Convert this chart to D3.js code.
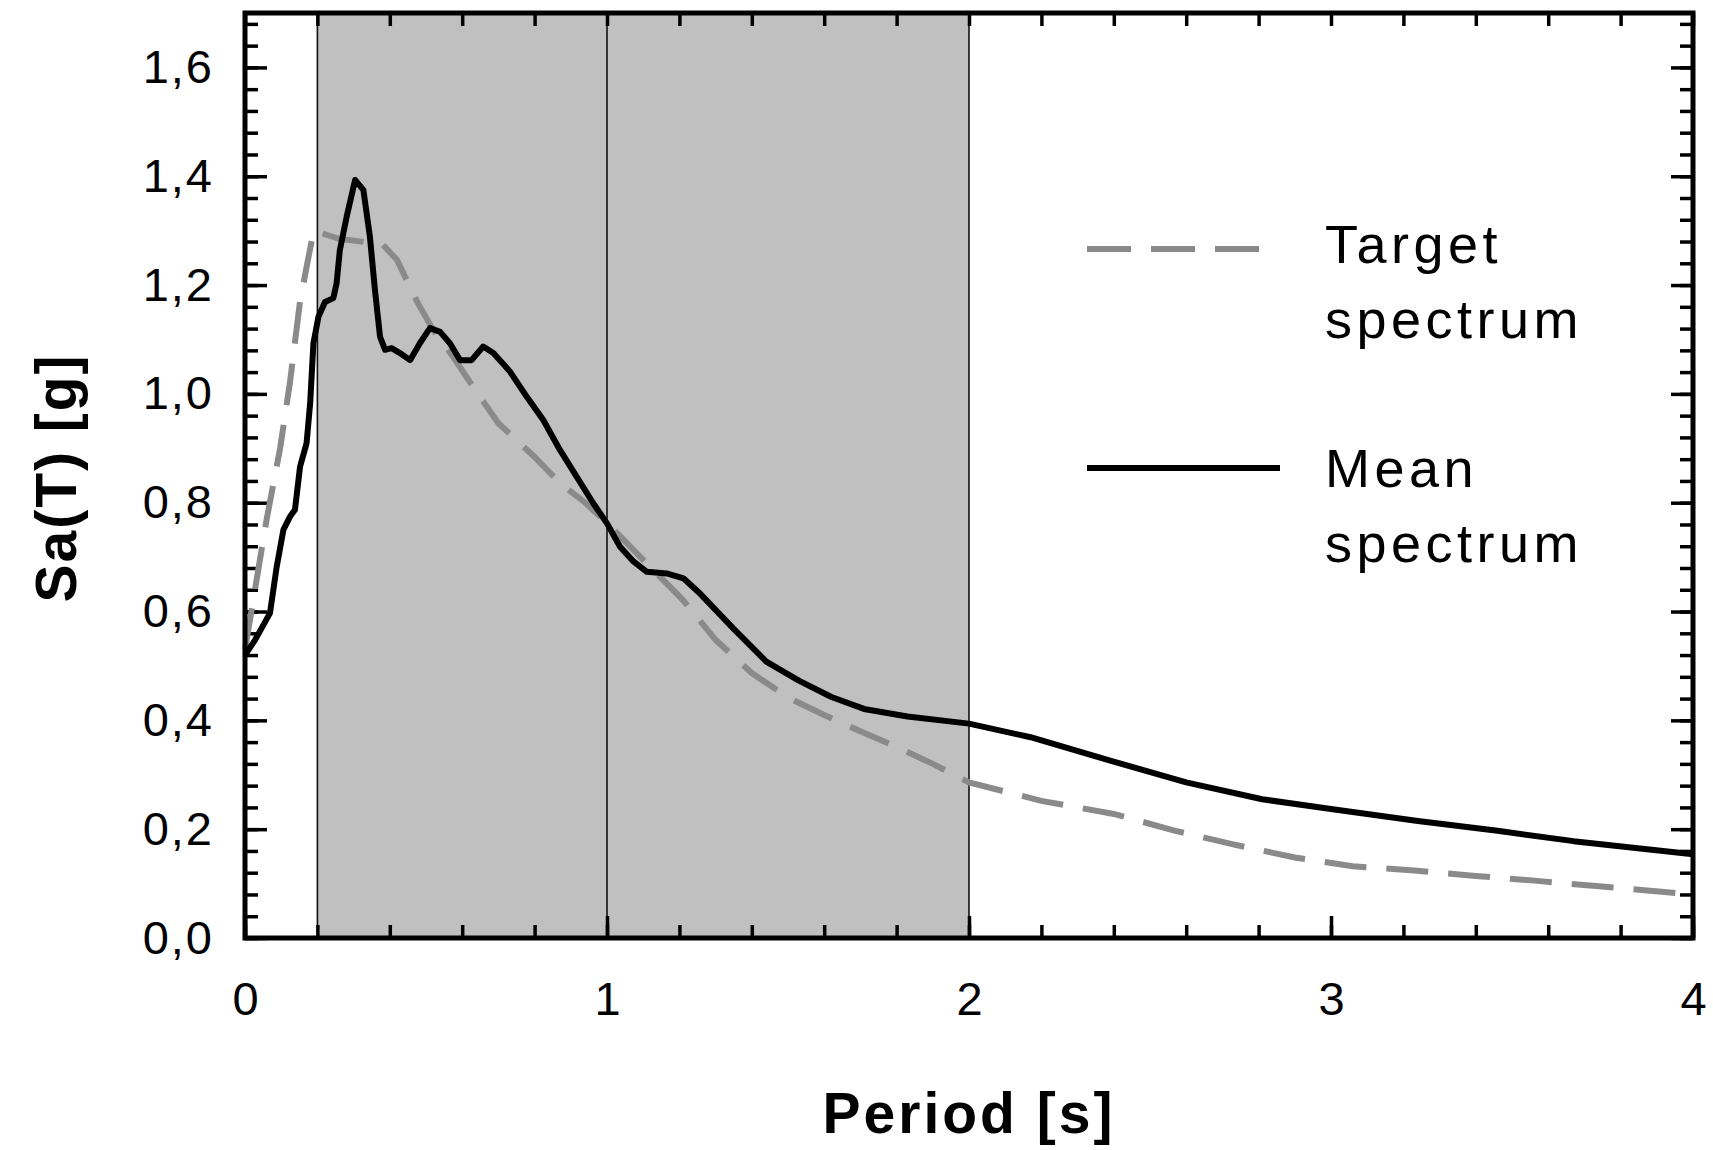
<!DOCTYPE html>
<html>
<head>
<meta charset="utf-8">
<script src="https://cdn.jsdelivr.net/npm/d3@7"></script>
<style>
  body { margin: 0; background: #fff; }
  text { font-family: "Liberation Sans", Arial, sans-serif; fill: #000; }
</style>
</head>
<body>
<div id="spectrum_chart"></div>
<script>
// target spectrum (dashed grey)
var period_target = [0, 0.06, 0.097, 0.124, 0.152, 0.175, 0.19, 0.26, 0.38, 0.42, 0.475, 0.52, 0.575, 0.63, 0.70, 0.80, 0.87, 0.94, 1.0, 1.1, 1.21, 1.3, 1.4, 1.5, 1.6, 1.7, 1.81, 1.9, 2.0, 2.2, 2.4, 2.57, 2.73, 2.9, 3.06, 3.23, 3.4, 3.57, 3.74, 4.0];
var sa_target = [0.53, 0.77, 0.90, 1.02, 1.17, 1.25, 1.30, 1.285, 1.275, 1.246, 1.17, 1.117, 1.068, 1.013, 0.946, 0.884, 0.836, 0.80, 0.763, 0.695, 0.621, 0.548, 0.487, 0.442, 0.41, 0.38, 0.348, 0.32, 0.286, 0.252, 0.228, 0.197, 0.172, 0.148, 0.132, 0.124, 0.114, 0.105, 0.095, 0.08];

// mean spectrum (solid black)
var period_mean = [0, 0.028, 0.069, 0.0875, 0.106, 0.124, 0.138, 0.152, 0.17, 0.18, 0.189, 0.203, 0.221, 0.244, 0.253, 0.262, 0.281, 0.304, 0.327, 0.345, 0.359, 0.373, 0.387, 0.405, 0.428, 0.456, 0.483, 0.511, 0.539, 0.566, 0.594, 0.626, 0.658, 0.686, 0.732, 0.778, 0.824, 0.87, 0.916, 0.962, 1.0, 1.036, 1.073, 1.11, 1.165, 1.211, 1.257, 1.35, 1.44, 1.53, 1.62, 1.71, 1.83, 2.0, 2.17, 2.39, 2.6, 2.81, 3.0, 3.24, 3.46, 3.67, 4.0];
var sa_mean = [0.52, 0.548, 0.597, 0.682, 0.75, 0.774, 0.787, 0.866, 0.909, 0.983, 1.093, 1.142, 1.169, 1.176, 1.203, 1.264, 1.326, 1.393, 1.375, 1.289, 1.191, 1.105, 1.081, 1.084, 1.075, 1.062, 1.093, 1.121, 1.114, 1.093, 1.062, 1.062, 1.087, 1.075, 1.041, 0.995, 0.952, 0.897, 0.848, 0.799, 0.762, 0.719, 0.692, 0.673, 0.670, 0.661, 0.633, 0.568, 0.508, 0.473, 0.443, 0.421, 0.407, 0.394, 0.369, 0.326, 0.286, 0.255, 0.237, 0.215, 0.197, 0.178, 0.154];

// period range of interest (shaded) and the vertical lines
var band = [0.2, 2.0];
var split_lines = [0.2, 1.0, 2.0];

// ticks
var x_major_ticks = [0, 1, 2, 3, 4];
var x_tick_labels = ["0", "1", "2", "3", "4"];
var y_major_ticks = [0, 0.2, 0.4, 0.6, 0.8, 1.0, 1.2, 1.4, 1.6];
var y_tick_labels = ["0,0", "0,2", "0,4", "0,6", "0,8", "1,0", "1,2", "1,4", "1,6"];

var legend_labels = [["Target", "spectrum"], ["Mean", "spectrum"]];

var margin = {top: 13, right: 20, bottom: 212, left: 245},
    width = 1448,
    height = 925;

var svg_chart = d3.select("#spectrum_chart").append("svg")
    .attr("width", 1713)
    .attr("height", 1150)
  .append("g")
    .attr("transform", "translate(" + margin.left + "," + margin.top + ")");

var x_axis = d3.scaleLinear().domain([0, 4]).range([0, width]);
var y_axis = d3.scaleLinear().domain([0, 1.7]).range([height, 0]);

// shaded band
svg_chart.append("rect")
    .attr("x", x_axis(band[0]))
    .attr("y", 0)
    .attr("width", x_axis(band[1]) - x_axis(band[0]))
    .attr("height", height)
    .attr("fill", "#c0c0c0");

svg_chart.append("g")
  .selectAll("line")
  .data(split_lines)
  .enter()
  .append("line")
    .attr("x1", d => x_axis(d))
    .attr("x2", d => x_axis(d))
    .attr("y1", 0)
    .attr("y2", height)
    .attr("stroke", "#111")
    .attr("stroke-width", 1.6);

// ticks on all four sides, pointing inwards
var x_minor = d3.range(0, 4.001, 0.2);
var y_minor = d3.range(0, 1.7001, 0.04);

function tick_group(axis, tx, ty) {
  var g = svg_chart.append("g")
      .attr("transform", "translate(" + tx + "," + ty + ")")
      .call(axis);
  g.select(".domain").remove();
  g.selectAll("line").attr("stroke", "#000").attr("stroke-width", 3.5);
  return g;
}

tick_group(d3.axisTop(x_axis).tickValues(x_minor).tickSize(13).tickFormat(""), 0, height);
tick_group(d3.axisTop(x_axis).tickValues(x_major_ticks).tickSize(22).tickFormat(""), 0, height);
tick_group(d3.axisBottom(x_axis).tickValues(x_minor).tickSize(13).tickFormat(""), 0, 0);
tick_group(d3.axisRight(y_axis).tickValues(y_minor).tickSize(13).tickFormat(""), 0, 0);
tick_group(d3.axisRight(y_axis).tickValues(y_major_ticks).tickSize(22).tickFormat(""), 0, 0);
tick_group(d3.axisLeft(y_axis).tickValues(y_minor).tickSize(13).tickFormat(""), width, 0);
tick_group(d3.axisLeft(y_axis).tickValues(y_major_ticks).tickSize(22).tickFormat(""), width, 0);

// tick labels
var x_labels = tick_group(d3.axisBottom(x_axis).tickValues(x_major_ticks).tickSize(0).tickPadding(44)
    .tickFormat((d, i) => x_tick_labels[i]), 0, height);
x_labels.selectAll("text").style("font-size", "47px").attr("fill", "#000");

var y_labels = tick_group(d3.axisLeft(y_axis).tickValues(y_major_ticks).tickSize(0).tickPadding(31)
    .tickFormat((d, i) => y_tick_labels[i]), 0, 0);
y_labels.selectAll("text").style("font-size", "47px").style("letter-spacing", "2px").attr("fill", "#000");

// spectra
var line = d3.line()
    .x(d => x_axis(d[0]))
    .y(d => y_axis(d[1]));

svg_chart.append("path")
    .datum(d3.zip(period_target, sa_target))
    .attr("d", line)
    .attr("fill", "none")
    .attr("stroke", "#8a8a8a")
    .attr("stroke-width", 6)
    .attr("stroke-dasharray", "42,20");

svg_chart.append("path")
    .datum(d3.zip(period_mean, sa_mean))
    .attr("d", line)
    .attr("fill", "none")
    .attr("stroke", "#000")
    .attr("stroke-width", 6)
    .attr("stroke-linejoin", "round");

// frame
svg_chart.append("rect")
    .attr("width", width)
    .attr("height", height)
    .attr("fill", "none")
    .attr("stroke", "#000")
    .attr("stroke-width", 5);

// legend
var legend = svg_chart.append("g").attr("transform", "translate(" + (-margin.left) + "," + (-margin.top) + ")");
legend.append("line")
    .attr("x1", 1087).attr("x2", 1263).attr("y1", 249).attr("y2", 249)
    .attr("stroke", "#8a8a8a").attr("stroke-width", 6).attr("stroke-dasharray", "44,20");
legend.append("line")
    .attr("x1", 1087).attr("x2", 1280).attr("y1", 468).attr("y2", 468)
    .attr("stroke", "#000").attr("stroke-width", 6);

var legend_y = [263, 487];
legend_labels.forEach(function (lab, i) {
  legend.append("text")
      .attr("x", 1325)
      .attr("y", legend_y[i])
      .style("font-size", "54px")
      .style("letter-spacing", "4.5px")
      .selectAll("tspan")
      .data(lab)
      .enter()
      .append("tspan")
        .attr("x", 1325)
        .attr("dy", (d, j) => j === 0 ? 0 : 75)
        .text(d => d);
});

// axis titles
svg_chart.append("text")
    .attr("x", width / 2)
    .attr("y", 1133 - margin.top)
    .attr("text-anchor", "middle")
    .style("font-size", "57px")
    .style("font-weight", "bold")
    .style("letter-spacing", "3px")
    .text("Period [s]");

svg_chart.append("text")
    .attr("transform", "translate(" + (76 - margin.left) + "," + (478 - margin.top) + ") rotate(-90)")
    .attr("text-anchor", "middle")
    .style("font-size", "57px")
    .style("font-weight", "bold")
    .style("letter-spacing", "2px")
    .text("Sa(T) [g]");
</script>
</body>
</html>
